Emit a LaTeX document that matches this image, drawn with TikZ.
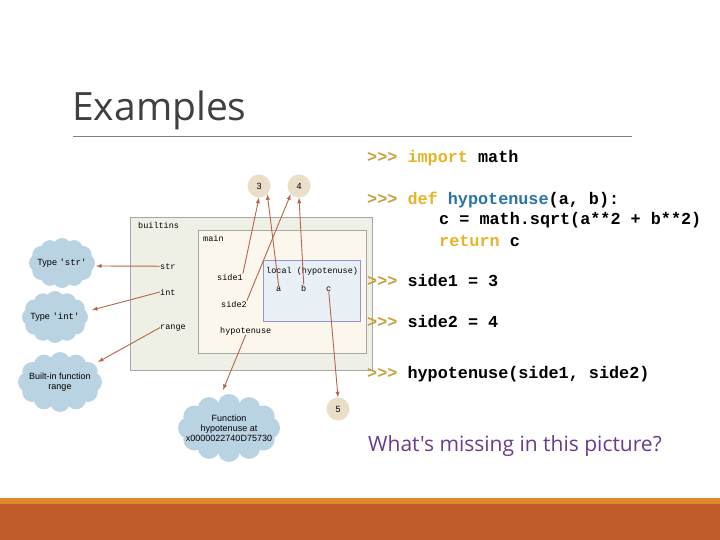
\documentclass[tikz,border=0pt]{standalone}
\usepackage{fontspec}
\setmainfont{Liberation Sans}
\newfontfamily\titlefont{Open Sans}
\newfontfamily\codefont{Liberation Mono}

\definecolor{prompt}{RGB}{200,160,64}
\definecolor{keyword}{RGB}{230,180,40}
\definecolor{funcname}{RGB}{40,115,170}
\definecolor{arrowc}{RGB}{181,101,74}
\definecolor{cloudc}{RGB}{186,211,227}
\definecolor{valc}{RGB}{234,222,200}
\definecolor{outerc}{RGB}{238,240,230}
\definecolor{mainc}{RGB}{251,247,237}
\definecolor{localc}{RGB}{232,240,246}
\definecolor{barlight}{RGB}{224,138,44}
\definecolor{bardark}{RGB}{191,91,42}
\definecolor{askc}{RGB}{105,60,140}

% puffy blob: centre x, centre y, radius x, radius y, puff radius
\newcommand\puffblob[5]{%
  \fill[cloudc] (#1,#2) ellipse ({#3} and {#4});
  \foreach \t in {0,30,...,330}
    \fill[cloudc] ({#1+#3*cos(\t)},{#2+#4*sin(\t)}) circle (#5);
}

\tikzset{
  codeline/.style={anchor=base west, inner sep=0pt, font=\codefont\bfseries\fontsize{16.8}{17}\selectfont},
  frame/.style={draw=gray!70, line width=0.6pt},
  varname/.style={anchor=base west, inner sep=0pt, font=\codefont\fontsize{8.5}{9}\selectfont},
  cloudtext/.style={align=center, inner sep=1pt, font=\fontsize{9}{10}\selectfont},
  valnode/.style={circle, fill=valc, minimum size=23pt, inner sep=0pt, font=\fontsize{9}{9}\selectfont},
  ref/.style={draw=arrowc, line width=0.9pt, -latex}
}

\begin{document}
\begin{tikzpicture}[x=1pt,y=-1pt]
  \useasboundingbox (0,0) rectangle (720,540);

  %% Title and rule
  \node[anchor=base west, inner sep=0pt, text=black!75, font=\titlefont\fontsize{39}{39}\selectfont] (title) at (72,121) {Examples};
  \draw[gray, line width=0.8pt] (73,136) -- (632,136);

  %% Bottom bars
  \fill[barlight] (0,498) rectangle (720,504);
  \fill[bardark] (0,504) rectangle (720,540);

  %% Frames
  \draw[frame, fill=outerc] (130,217) rectangle (372,370);
  \draw[frame, fill=mainc] (198,230) rectangle (366,353);
  \draw[frame, draw=gray!60!blue!60, fill=localc] (263,260) rectangle (360,321);

  %% Names
  \node[varname] (builtins) at (138,229) {builtins};
  \node[varname] (main) at (203,241) {main};
  \node[varname] (str) at (160,269) {str};
  \node[varname] (int) at (160,295) {int};
  \node[varname] (range) at (160,329) {range};
  \node[varname] (side1) at (217,280) {side1};
  \node[varname] (side2) at (221,307) {side2};
  \node[varname] (hyp) at (220,333) {hypotenuse};
  \node[varname] (local) at (266,273) {local (hypotenuse)};
  \node[varname] (a) at (276,291) {a};
  \node[varname] (b) at (301,291) {b};
  \node[varname] (c) at (326,291) {c};

  %% Values
  \node[valnode] (v3) at (259,186) {3};
  \node[valnode] (v4) at (299,186) {4};
  \node[valnode] (v5) at (338,409) {5};

  %% Objects
  \puffblob{62}{263}{24}{16}{9}
  \puffblob{55}{317}{24}{17}{9}
  \puffblob{60}{382}{32}{20}{10}
  \puffblob{229}{428}{40}{23}{11}
  \node[cloudtext] (tstr) at (62,263) {Type {\codefont'str'}};
  \node[cloudtext] (tint) at (55,317) {Type {\codefont'int'}};
  \node[cloudtext] (frange) at (60,382) {Built-in function\\range};
  \node[cloudtext] (fhyp) at (229,428) {Function\\hypotenuse at\\x0000022740D75730};
  \coordinate (tstrin) at (96,266);
  \coordinate (tintin) at (92,310);
  \coordinate (frangein) at (98,362);
  \coordinate (fhypin) at (223,390);

  %% References
  \draw[ref] (str.west) -- (tstrin);
  \draw[ref] (int.west) -- (tintin);
  \draw[ref] (range.west) -- (frangein);
  \draw[ref] (side1.north east) -- (v3.south);
  \draw[ref] (a.north) -- (v3.south east);
  \draw[ref] (side2.north east) -- (v4.south west);
  \draw[ref] (b.north) -- (v4.south);
  \draw[ref] (c.south) -- (v5.north);
  \draw[ref] (hyp.south) -- (fhypin);

  %% Session
  \node[codeline] (l1) at (367,163) {\textcolor{prompt}{>{}>{}>} \textcolor{keyword}{import} math};
  \node[codeline] (l2) at (367,205) {\textcolor{prompt}{>{}>{}>} \textcolor{keyword}{def} \textcolor{funcname}{hypotenuse}(a, b):};
  \node[codeline] (l3) at (439,225) {c = math.sqrt(a**2 + b**2)};
  \node[codeline] (l4) at (439,246) {\textcolor{keyword}{return} c};
  \node[codeline] (l5) at (367,286) {\textcolor{prompt}{>{}>{}>} side1 = 3};
  \node[codeline] (l6) at (367,327) {\textcolor{prompt}{>{}>{}>} side2 = 4};
  \node[codeline] (l7) at (367,378) {\textcolor{prompt}{>{}>{}>} hypotenuse(side1, side2)};

  %% Question
  \node[anchor=base west, inner sep=0pt, text=askc, font=\titlefont\fontsize{21}{21}\selectfont] (ask) at (368,451) {What's missing in this picture?};
\end{tikzpicture}
\end{document}
